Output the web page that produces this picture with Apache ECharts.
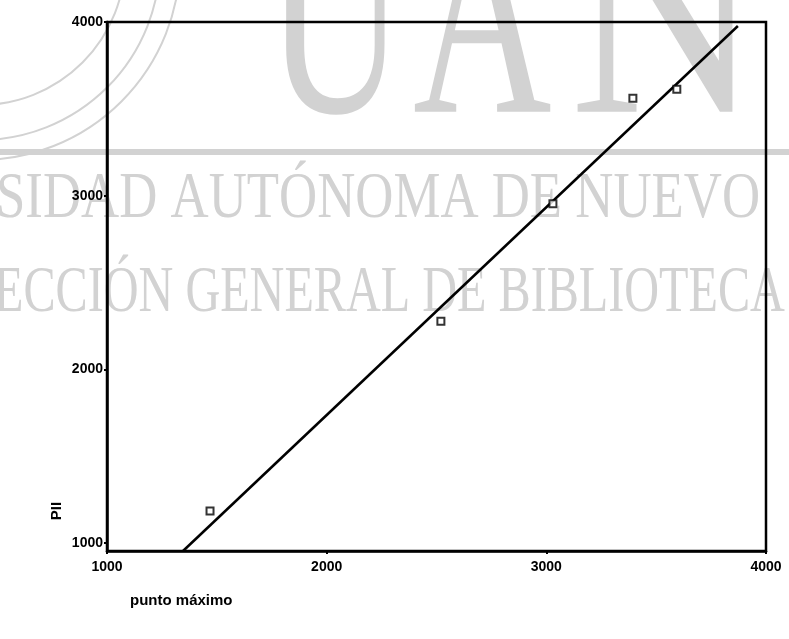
<!DOCTYPE html>
<html>
<head>
<meta charset="utf-8">
<script src="https://cdn.jsdelivr.net/npm/echarts@6/dist/echarts.min.js"></script>
<style>html,body{margin:0;padding:0;background:#fff}#c{width:789px;height:639px}</style>
</head>
<body>
<div id="c"></div>
<script>
// Observed points (punto máximo vs PII)
const ptsX = [1469, 2520, 3030, 3394, 3594];
const ptsY = [1185, 2277, 2954, 3561, 3613];
// Fitted line end points as drawn
const lineX = [1346, 3872];
const lineY = [954, 3977];
// Ticks
const xTicks = [1000, 2000, 3000, 4000];
const yTicks = [1000, 2000, 3000, 4000];
const xName = 'punto máximo';
const yName = 'PII';
const wmLine1 = 'SIDAD AUTÓNOMA DE NUEVO';
const wmLine2 = 'ECCIÓN GENERAL DE BIBLIOTECA';
const wmBig = ['U', 'A', 'N'];

const chart = echarts.init(document.getElementById('c'), null, {renderer: 'canvas'});
const wm = '#d2d2d2';
const serif = '"Liberation Serif", "DejaVu Serif", serif';
const bigX = [266, 413, 570];
const bigSX = [0.64, 0.64, 0.88];

const graphics = [
  // seal arcs
  {type: 'arc', z: -10, shape: {cx: -20, cy: -40, r: 200, startAngle: 0, endAngle: Math.PI / 2}, style: {stroke: wm, lineWidth: 2, fill: null}},
  {type: 'arc', z: -10, shape: {cx: -20, cy: -40, r: 180, startAngle: 0, endAngle: Math.PI / 2}, style: {stroke: wm, lineWidth: 2, fill: null}},
  {type: 'arc', z: -10, shape: {cx: -20, cy: -40, r: 145, startAngle: 0, endAngle: Math.PI / 2}, style: {stroke: wm, lineWidth: 2, fill: null}},
  // gray band
  {type: 'rect', z: -10, shape: {x: 0, y: 149, width: 789, height: 6}, style: {fill: wm}},
  // watermark lines
  {type: 'text', z: -10, x: -4, y: 167, scaleX: 0.8, style: {text: wmLine1, font: '66px ' + serif, fill: wm}},
  {type: 'text', z: -10, x: -6, y: 261, scaleX: 0.73, style: {text: wmLine2, font: '66px ' + serif, fill: wm}}
];
wmBig.forEach((ch, i) => {
  graphics.push({type: 'text', z: -10, x: bigX[i], y: -117, scaleX: bigSX[i], style: {text: ch, font: '300px ' + serif, fill: wm}});
});
graphics.push(
  {type: 'text', x: 130, y: 601, style: {text: xName, font: 'bold 15px "Liberation Sans", Arial, sans-serif', fill: '#000', verticalAlign: 'middle'}},
  {type: 'text', x: 57, y: 511, rotation: Math.PI / 2, style: {text: yName, font: 'bold 15px "Liberation Sans", Arial, sans-serif', fill: '#000', align: 'center', verticalAlign: 'middle'}}
);

const lab = {color: '#000', fontFamily: '"Liberation Sans", Arial, sans-serif', fontWeight: 'bold', fontSize: 14, formatter: v => String(v)};

chart.setOption({
  backgroundColor: '#fff',
  animation: false,
  graphic: graphics,
  grid: {left: 107, top: 22, right: 23, bottom: 88, show: true, borderColor: '#000', borderWidth: 2.5, backgroundColor: 'transparent'},
  xAxis: {
    type: 'value', min: 1000, max: 4000,
    axisLine: {show: true, onZero: false, lineStyle: {color: '#000', width: 2.5}},
    axisTick: {show: true, length: 3, lineStyle: {color: '#000', width: 2}, customValues: xTicks},
    axisLabel: Object.assign({margin: 9, customValues: xTicks}, lab),
    splitLine: {show: false}
  },
  yAxis: {
    type: 'value', min: 954, max: 4000,
    axisLine: {show: true, onZero: false, lineStyle: {color: '#000', width: 2.5}},
    axisTick: {show: true, length: 3, lineStyle: {color: '#000', width: 2}, customValues: yTicks},
    axisLabel: Object.assign({margin: 4, customValues: yTicks}, lab),
    splitLine: {show: false}
  },
  series: [
    {
      type: 'line', data: lineX.map((x, i) => [x, lineY[i]]), symbol: 'none',
      lineStyle: {color: '#000', width: 2.5}, z: 3
    },
    {
      type: 'scatter', data: ptsX.map((x, i) => [x, ptsY[i]]), symbol: 'rect', symbolSize: 7,
      itemStyle: {color: '#fff', borderColor: '#000', borderWidth: 2}, z: 4
    }
  ]
});
</script>
</body>
</html>
